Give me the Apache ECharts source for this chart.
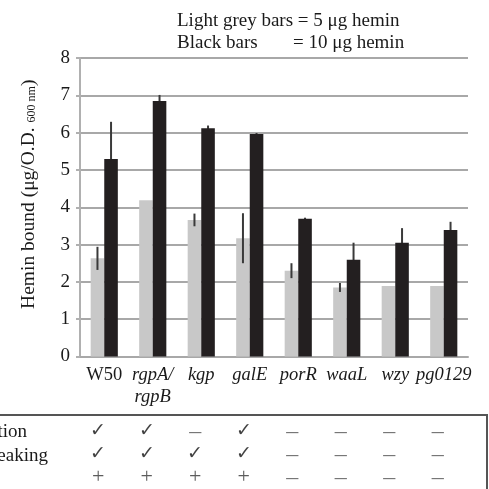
<!DOCTYPE html>
<html><head><meta charset="utf-8">
<script src="https://cdn.jsdelivr.net/npm/echarts@6/dist/echarts.min.js"></script>
<style>html,body{margin:0;padding:0;background:#fff}#c{width:489px;height:489px}</style>
</head><body><div id="c"></div>
<script>
var categories = ['W50', 'rgpA/\nrgpB', 'kgp', 'galE', 'porR', 'waaL', 'wzy', 'pg0129'];
var grey5 = [2.63, 4.19, 3.66, 3.17, 2.30, 1.85, 1.89, 1.89];
var grey5Err = [0.31, 0, 0.17, 0.67, 0.20, 0.12, 0, 0];
var black10 = [5.29, 6.85, 6.12, 5.96, 3.69, 2.59, 3.05, 3.39];
var black10Err = [1.00, 0.16, 0.07, 0.03, 0.03, 0.46, 0.39, 0.22];
var yTicks = [0, 1, 2, 3, 4, 5, 6, 7, 8];
var rowLabels = ['tion', 'eaking', ''];
var row1 = ['✓', '✓', '–', '✓', '–', '–', '–', '–'];
var row2 = ['✓', '✓', '✓', '✓', '–', '–', '–', '–'];
var row3 = ['+', '+', '+', '+', '–', '–', '–', '–'];

var FONT = 'Liberation Serif';
var chart = echarts.init(document.getElementById('c'));

function errData(vals, errs) {
  var out = [];
  for (var i = 0; i < vals.length; i++) {
    if (errs[i] > 0) out.push([i, vals[i] - errs[i], vals[i] + errs[i]]);
  }
  return out;
}
function errRender(sign) {
  return function (params, api) {
    var bw = api.size([1, 0])[0];
    var lo = api.coord([api.value(0), api.value(1)]);
    var hi = api.coord([api.value(0), api.value(2)]);
    var x = lo[0] + sign * bw * 0.14;
    return {
      type: 'line',
      shape: { x1: x, y1: lo[1], x2: x, y2: hi[1] },
      style: { stroke: '#3a3a3a', lineWidth: 2 }
    };
  };
}
var tableData = [];
[row1, row2, row3].forEach(function (row, r) {
  row.forEach(function (t, i) { tableData.push([i, r, t]); });
});

chart.setOption({
  animation: false,
  textStyle: { fontFamily: FONT },
  grid: [
    { left: 80, right: 21, top: 58, bottom: 132.5 },
    { left: 74, right: 27, top: 420, bottom: 0 }
  ],
  xAxis: [{
    type: 'category', data: categories, gridIndex: 0,
    axisLine: { lineStyle: { color: '#a8a8a8', width: 2 } },
    axisTick: { show: false },
    axisLabel: {
      interval: 0,
      margin: 8, color: '#1a1a1a', fontSize: 18.5, lineHeight: 22, fontFamily: FONT,
      formatter: function (v) {
        if (v === 'W50') return v;
        return v.split('\n').map(function (s) { return '{i|' + s + '}'; }).join('\n');
      },
      rich: { i: { fontStyle: 'italic', fontSize: 18.5, lineHeight: 22, fontFamily: FONT, color: '#1a1a1a' } }
    }
  }, {
    type: 'category', data: categories, gridIndex: 1, show: false
  }],
  yAxis: [{
    type: 'value', gridIndex: 0, min: 0, max: 8, interval: 1,
    axisLine: { show: true, lineStyle: { color: '#b0b0b0', width: 2 } },
    axisTick: { show: true, length: 4, lineStyle: { color: '#b0b0b0', width: 2 } },
    splitLine: { lineStyle: { color: '#a8a8a8', width: 2 } },
    axisLabel: { margin: 10, color: '#1a1a1a', fontSize: 19, fontFamily: FONT,
      formatter: function (v) { return yTicks.indexOf(v) >= 0 ? String(v) : ''; } },
    name: '{a|Hemin bound (μg/O.D. }{s|600 nm}{a|)}',
    nameLocation: 'middle', nameRotate: 90, nameGap: 41,
    nameTextStyle: {
      padding: [0, 0, 0, 26],
      rich: {
        a: { fontSize: 19.5, fontFamily: FONT, color: '#1a1a1a' },
        s: { fontSize: 12, fontFamily: FONT, color: '#1a1a1a', padding: [6, 0, 0, 0] }
      }
    }
  }, {
    type: 'value', gridIndex: 1, min: -0.5, max: 2.5, inverse: true, show: false
  }],
  series: [
    { type: 'bar', name: '5 μg', data: grey5, barWidth: '28%', barGap: '0%', z: 2,
      itemStyle: { color: '#c8c8c8' } },
    { type: 'bar', name: '10 μg', data: black10, barWidth: '28%', barGap: '0%', z: 2,
      itemStyle: { color: '#231f20' } },
    { type: 'custom', data: errData(grey5, grey5Err), renderItem: errRender(-1), z: 5 },
    { type: 'custom', data: errData(black10, black10Err), renderItem: errRender(1), z: 1 },
    { type: 'scatter', xAxisIndex: 1, yAxisIndex: 1, data: tableData, symbolSize: 0,
      label: { show: true, position: 'inside', fontSize: 19, color: '#111',
        fontFamily: FONT,
        formatter: function (p) {
          var t = p.value[2];
          if (t === '–') return '{d|–}';
          if (t === '+') return '{p|+}';
          return t;
        },
        rich: {
          d: { fontSize: 24, color: '#555', fontFamily: FONT },
          p: { fontSize: 22, color: '#333', fontFamily: FONT }
        } } }
  ],
  graphic: [
    { type: 'text', left: 177, top: 12, style: { text: 'Light grey bars = 5 μg hemin', font: '19px "Liberation Serif"', fill: '#1a1a1a' } },
    { type: 'text', left: 177, top: 34, style: { text: 'Black bars', font: '19px "Liberation Serif"', fill: '#1a1a1a' } },
    { type: 'text', left: 293, top: 34, style: { text: '= 10 μg hemin', font: '19px "Liberation Serif"', fill: '#1a1a1a' } },
    { type: 'rect', shape: { x: -5, y: 415, width: 492, height: 90 },
      style: { fill: 'none', stroke: '#555', lineWidth: 2 } },
    { type: 'text', x: 27, y: 432, style: { text: rowLabels[0], font: '19px "Liberation Serif"', fill: '#1a1a1a', align: 'right', verticalAlign: 'middle' } },
    { type: 'text', x: 48, y: 456, style: { text: rowLabels[1], font: '19px "Liberation Serif"', fill: '#1a1a1a', align: 'right', verticalAlign: 'middle' } }
  ]
});
</script>
</body></html>
